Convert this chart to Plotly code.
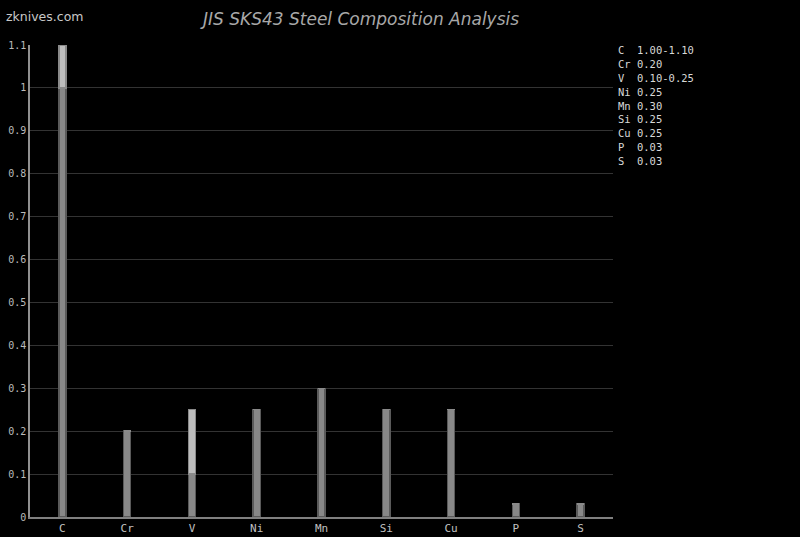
import plotly.graph_objects as go

elements = ["C", "Cr", "V", "Ni", "Mn", "Si", "Cu", "P", "S"]
min_vals = [1.00, 0.20, 0.10, 0.25, 0.30, 0.25, 0.25, 0.03, 0.03]
max_vals = [1.10, 0.20, 0.25, 0.25, 0.30, 0.25, 0.25, 0.03, 0.03]
legend_lines = ["C  1.00-1.10", "Cr 0.20", "V  0.10-0.25", "Ni 0.25", "Mn 0.30",
                "Si 0.25", "Cu 0.25", "P  0.03", "S  0.03"]
y_ticks = [0, 0.1, 0.2, 0.3, 0.4, 0.5, 0.6, 0.7, 0.8, 0.9, 1, 1.1]

range_part = [mx - mn for mn, mx in zip(min_vals, max_vals)]

fig = go.Figure()
fig.add_trace(go.Bar(x=elements, y=min_vals, marker=dict(color="#888888", line=dict(color="#5a5a5a", width=1.5)),
                     hoverinfo="skip"))
fig.add_trace(go.Bar(x=elements, y=range_part, marker=dict(color="#bdbdbd", line=dict(color="#8a8a8a", width=1.5)),
                     hoverinfo="skip"))

W, H = 800, 537
mt, mb, ml, mr = 45, 20, 30, 187
plot_w = W - ml - mr
plot_h = H - mt - mb


def px(xw):
    return (xw - ml) / plot_w


def py(yw):
    return (H - mb - yw) / plot_h


annotations = []
for i, line in enumerate(legend_lines):
    ypix = 50 + i * 13.9
    annotations.append(dict(text=line, xref="paper", yref="paper", x=px(616),
                            y=py(ypix), xanchor="left", yanchor="middle",
                            showarrow=False, font=dict(family="DejaVu Sans Mono", size=10.5, color="#d8d8d8")))
annotations.append(dict(text="zknives.com", xref="paper", yref="paper", x=px(4),
                        y=py(17), xanchor="left", yanchor="middle", showarrow=False,
                        font=dict(family="DejaVu Sans", size=12.5, color="#c8c8c8")))
annotations.append(dict(text="<i>JIS SKS43 Steel Composition Analysis</i>", xref="paper", yref="paper",
                        x=px(359), y=py(19), xanchor="center",
                        yanchor="middle", showarrow=False,
                        font=dict(family="DejaVu Sans", size=17, color="#a8a8a8")))

fig.update_layout(
    width=W, height=H,
    barmode="stack", bargap=0.89,
    paper_bgcolor="black", plot_bgcolor="black",
    margin=dict(t=mt, b=mb, l=ml, r=mr, autoexpand=False),
    showlegend=False,
    annotations=annotations,
    xaxis=dict(showgrid=False, showline=True, linecolor="#808080", linewidth=1.5,
               tickfont=dict(family="DejaVu Sans Mono", size=11, color="#c0c0c0"),
               ticks="", fixedrange=True, automargin=False),
    yaxis=dict(range=[0, 1.1], tickvals=y_ticks, ticktext=[f"{v:g}" for v in y_ticks],
               showgrid=True, gridcolor="#333333", gridwidth=1,
               showline=True, linecolor="#909090", linewidth=1.5, zeroline=False,
               tickfont=dict(family="DejaVu Sans Mono", size=10, color="#bbbbbb"),
               ticks="", automargin=False, fixedrange=True),
)

fig.write_html("out.html", config={"displayModeBar": False},
               post_script="document.body.style.margin='0';document.body.style.background='black';"
                           "document.body.style.overflow='hidden';")
